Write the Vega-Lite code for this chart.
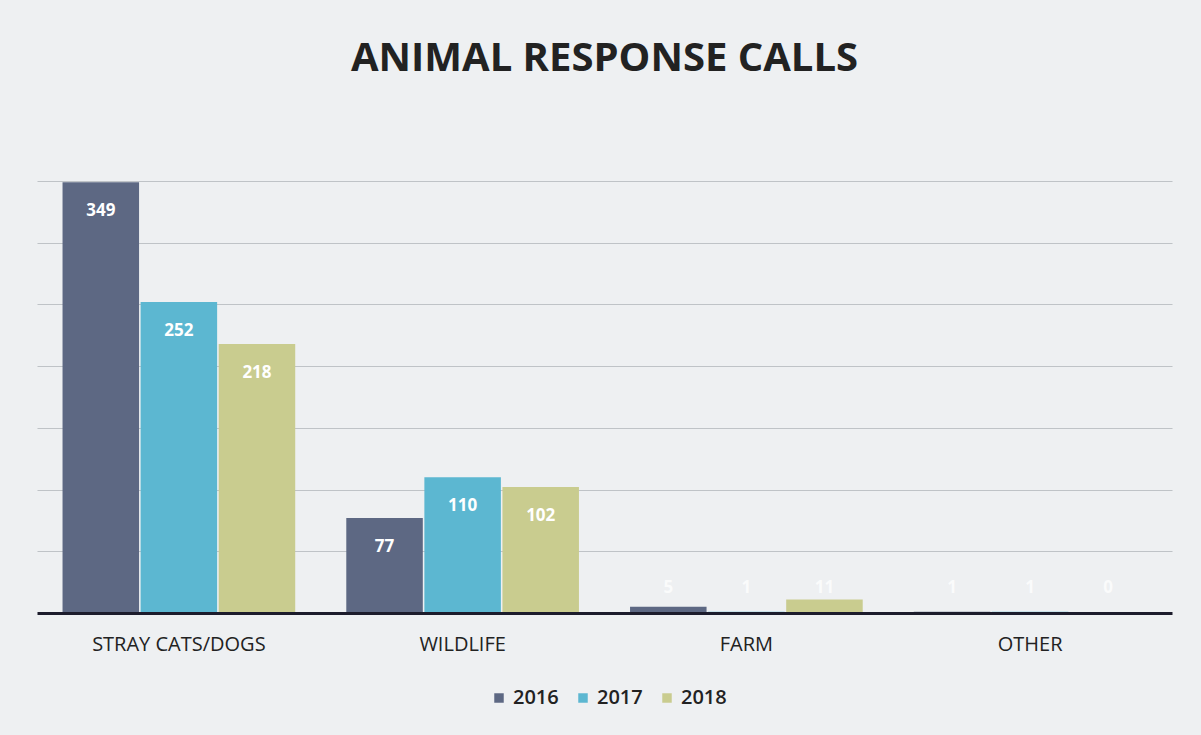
{
  "$schema": "https://vega.github.io/schema/vega-lite/v6.json",
  "width": 1135,
  "height": 432,
  "autosize": {"type": "none"},
  "padding": {"left": 37, "top": 181, "right": 29, "bottom": 122},
  "background": "#eef0f2",
  "title": {
    "text": "ANIMAL RESPONSE CALLS",
    "font": "Open Sans",
    "fontSize": 40,
    "fontWeight": "bold",
    "color": "#222222",
    "anchor": "middle",
    "baseline": "bottom",
    "offset": 62
  },
  "config": {
    "view": {"stroke": null},
    "font": "Open Sans"
  },
  "data": {
    "values": [
      {"category": "STRAY CATS/DOGS", "year": "2016", "calls": 349},
      {"category": "STRAY CATS/DOGS", "year": "2017", "calls": 252},
      {"category": "STRAY CATS/DOGS", "year": "2018", "calls": 218},
      {"category": "WILDLIFE", "year": "2016", "calls": 77},
      {"category": "WILDLIFE", "year": "2017", "calls": 110},
      {"category": "WILDLIFE", "year": "2018", "calls": 102},
      {"category": "FARM", "year": "2016", "calls": 5},
      {"category": "FARM", "year": "2017", "calls": 1},
      {"category": "FARM", "year": "2018", "calls": 11},
      {"category": "OTHER", "year": "2016", "calls": 1},
      {"category": "OTHER", "year": "2017", "calls": 1},
      {"category": "OTHER", "year": "2018", "calls": 0}
    ]
  },
  "encoding": {
    "x": {
      "field": "category",
      "type": "nominal",
      "sort": ["STRAY CATS/DOGS", "WILDLIFE", "FARM", "OTHER"],
      "scale": {"paddingInner": 0.18, "paddingOuter": 0.09},
      "axis": {
        "title": null,
        "labelAngle": 0,
        "labelFont": "Open Sans",
        "labelFontSize": 20,
        "labelColor": "#222222",
        "labelPadding": 21,
        "ticks": false,
        "domainColor": "#1c1c2c",
        "domainWidth": 3,
        "zindex": 1
      }
    },
    "xOffset": {
      "field": "year",
      "type": "nominal",
      "scale": {"paddingInner": 0.02}
    }
  },
  "layer": [
    {
      "mark": {"type": "bar"},
      "encoding": {
        "y": {
          "field": "calls",
          "type": "quantitative",
          "scale": {"domain": [0, 350], "nice": false},
          "axis": {
            "title": null,
            "labels": false,
            "ticks": false,
            "domain": false,
            "values": [50, 100, 150, 200, 250, 300, 350],
            "gridColor": "#bfc3c7",
            "gridWidth": 1
          }
        },
        "color": {
          "field": "year",
          "type": "nominal",
          "scale": {"domain": ["2016", "2017", "2018"], "range": ["#5d6883", "#5cb7d1", "#c9cc8f"]},
          "legend": {
            "title": null,
            "orient": "none",
            "direction": "horizontal",
            "legendX": 452,
            "legendY": 507,
            "symbolType": "square",
            "symbolSize": 90,
            "labelFont": "Open Sans",
            "labelFontSize": 20,
            "labelFontWeight": 600,
            "labelColor": "#222222",
            "columnPadding": 14,
            "labelOffset": 4
          }
        }
      }
    },
    {
      "transform": [{"filter": "datum.calls >= 30"}],
      "mark": {"type": "text", "color": "white", "fontSize": 17, "fontWeight": "bold", "baseline": "middle", "dy": 29},
      "encoding": {
        "y": {"field": "calls", "type": "quantitative"},
        "text": {"field": "calls", "type": "quantitative"}
      }
    },
    {
      "transform": [{"filter": "datum.calls < 30"}],
      "mark": {"type": "text", "color": "white", "opacity": 0.75, "fontSize": 17, "fontWeight": "bold", "baseline": "middle", "dy": -25},
      "encoding": {
        "y": {"datum": 0, "type": "quantitative"},
        "text": {"field": "calls", "type": "quantitative"}
      }
    }
  ]
}
